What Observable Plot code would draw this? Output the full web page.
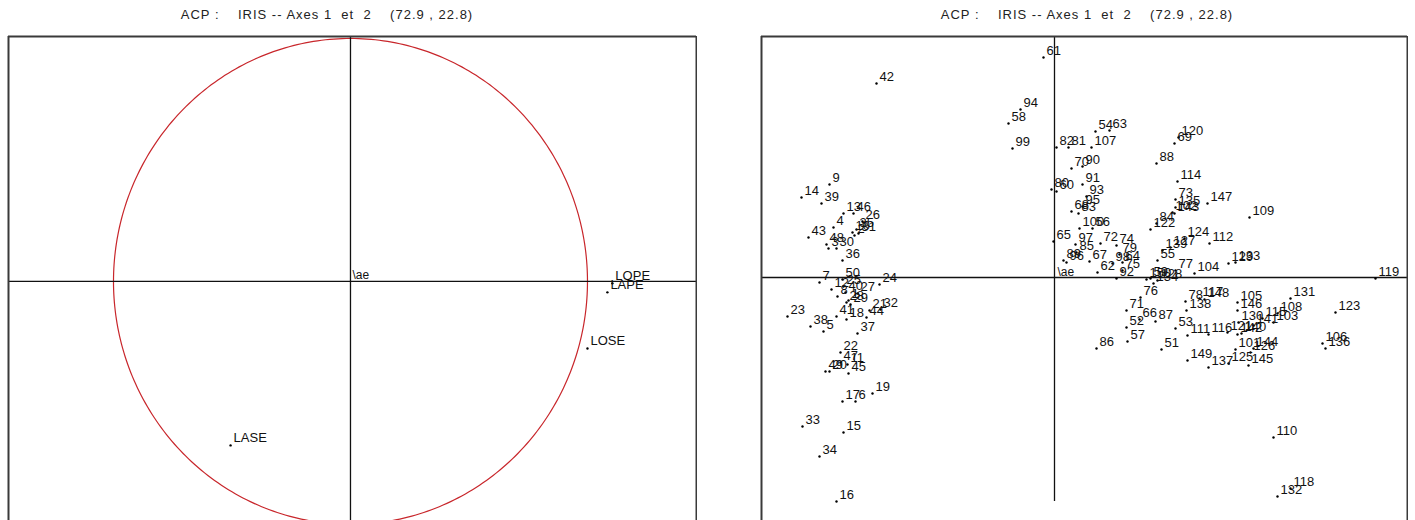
<!DOCTYPE html>
<html><head><meta charset="utf-8">
<script src="https://cdn.jsdelivr.net/npm/d3@7"></script>
<script src="https://cdn.jsdelivr.net/npm/@observablehq/plot@0.6"></script>
<style>
html,body{margin:0;padding:0;background:#fff;}
body{width:1415px;height:520px;overflow:hidden;position:relative;font-family:"Liberation Sans",Arial,sans-serif;}
.title{position:absolute;top:7px;width:400px;text-align:center;font-size:13px;letter-spacing:1px;white-space:pre;color:#222;}
.panel{position:absolute;top:35px;}
</style></head><body>
<div class="title" id="t1" style="left:127px"></div>
<div class="title" id="t2" style="left:887px"></div>
<div class="panel" id="p1" style="left:7px"></div>
<div class="panel" id="p2" style="left:760px"></div>
<script>
const titleText = "ACP :    IRIS -- Axes 1  et  2    (72.9 , 22.8)";
const originLabel = "\\ae";

// Correlation circle: variables
const varNames = ["LOPE", "LAPE", "LOSE", "LASE"];
const varX = [1.105, 1.084, 1.000, -0.506];
const varY = [-0.008, -0.045, -0.276, -0.675];

// Individuals: setosa group
const setLabels = ["42","9","14","39","13","46","26","4","10","35","2","31","43","48","3","30","36","50","7","25","12","8","40","27","28","29","1","24","41","18","44","21","32","23","38","5","37","22","47","11","49","20","45","17","6","19","33","15","34","16"];
const setX = [-1.78,-2.25,-2.53,-2.33,-2.11,-2.01,-1.92,-2.21,-2.02,-1.98,-2.00,-1.96,-2.46,-2.28,-2.26,-2.18,-2.12,-2.12,-2.35,-2.11,-2.23,-2.17,-2.09,-1.97,-2.08,-2.04,-2.06,-1.75,-2.18,-2.08,-1.88,-1.85,-1.74,-2.67,-2.44,-2.31,-1.97,-2.14,-2.14,-2.07,-2.29,-2.25,-2.06,-2.12,-1.99,-1.82,-2.52,-2.11,-2.35,-2.18];
const setY = [1.94,0.93,0.80,0.74,0.64,0.64,0.56,0.50,0.45,0.48,0.42,0.44,0.40,0.33,0.29,0.29,0.17,-0.02,-0.05,-0.09,-0.12,-0.19,-0.15,-0.16,-0.25,-0.27,-0.23,-0.07,-0.39,-0.42,-0.40,-0.33,-0.32,-0.39,-0.49,-0.54,-0.56,-0.75,-0.85,-0.87,-0.94,-0.94,-0.96,-1.24,-1.24,-1.16,-1.49,-1.55,-1.79,-2.24];

// Individuals: versicolor / virginica group
const othLabels = ["61","94","58","99","82","81","107","54","63","70","90","91","80","60","93","95","68","83","100","56","122","84","73","135","102","143","88","69","120","114","147","109","124","112","139","127","55","65","97","72","74","85","89","96","67","79","98","64","75","62","92","150","59","128","134","77","104","129","133","76","71","52","66","87","57","86","51","53","138","78","117","148","111","116","121","142","140","119","131","105","146","108","123","130","141","115","103","101","144","149","137","125","126","145","106","136","110","132","118"];
const othX = [-0.11,-0.34,-0.46,-0.42,0.02,0.14,0.37,0.41,0.55,0.17,0.28,0.28,-0.03,0.02,0.32,0.28,0.17,0.24,0.25,0.38,0.96,1.02,1.21,1.21,1.18,1.20,1.02,1.20,1.24,1.23,1.53,1.95,1.30,1.55,1.08,1.16,1.03,-0.01,0.21,0.46,0.62,0.22,0.09,0.12,0.35,0.65,0.58,0.68,0.68,0.43,0.62,0.92,0.96,1.03,0.99,1.21,1.40,1.74,1.81,0.86,0.72,0.72,0.85,1.01,0.73,0.42,1.07,1.21,1.32,1.31,1.45,1.50,1.33,1.54,1.73,1.83,1.87,3.21,2.36,1.83,1.83,2.23,2.81,1.84,1.99,2.08,2.19,1.81,1.99,1.33,1.54,1.74,1.96,1.94,2.68,2.71,2.19,2.23,2.36];
const othY = [2.20,1.68,1.54,1.29,1.30,1.30,1.30,1.46,1.47,1.09,1.11,0.93,0.88,0.86,0.81,0.71,0.66,0.64,0.49,0.49,0.48,0.54,0.78,0.70,0.65,0.64,1.14,1.34,1.40,0.96,0.74,0.60,0.39,0.34,0.27,0.30,0.17,0.36,0.33,0.34,0.32,0.25,0.17,0.15,0.16,0.23,0.14,0.15,0.07,0.05,-0.01,-0.02,-0.01,-0.03,-0.06,0.07,0.04,0.14,0.15,-0.20,-0.33,-0.50,-0.42,-0.44,-0.64,-0.71,-0.72,-0.51,-0.33,-0.24,-0.21,-0.22,-0.58,-0.57,-0.55,-0.57,-0.56,-0.01,-0.21,-0.25,-0.33,-0.36,-0.35,-0.45,-0.48,-0.41,-0.45,-0.72,-0.71,-0.83,-0.90,-0.86,-0.75,-0.88,-0.66,-0.71,-1.60,-2.19,-2.11];

const font = '"Liberation Sans", Arial, sans-serif';
const ink = "#111";
const frameColor = "#3a3a3a";

document.getElementById("t1").textContent = titleText;
document.getElementById("t2").textContent = titleText;

// ---------- left panel: correlation circle ----------
const vars = varNames.map((n, i) => ({name: n, x: varX[i], y: varY[i]}));
const angles = d3.range(0, 361).map(a => a * Math.PI / 180);
const lx = [-1.443, 1.460], ly = [-0.984, 1.008];
const left = Plot.plot({
  width: 690, height: 485,
  marginLeft: 1, marginRight: 1, marginTop: 1, marginBottom: 0,
  x: {domain: lx, axis: null},
  y: {domain: ly, axis: null},
  style: {fontFamily: font, fontSize: "13px", background: "transparent", overflow: "hidden"},
  marks: [
    Plot.line(angles, {x: a => Math.cos(a), y: a => Math.sin(a), stroke: "#c8262b", strokeWidth: 1.2, clip: true}),
    Plot.ruleY([0], {stroke: ink, strokeWidth: 1.3}),
    Plot.ruleX([0], {stroke: ink, strokeWidth: 1.3}),
    Plot.ruleX([lx[0], lx[1]], {stroke: frameColor, strokeWidth: 2}),
    Plot.ruleY([ly[1]], {stroke: frameColor, strokeWidth: 2}),
    Plot.dot(vars, {x: "x", y: "y", r: 1.2, fill: "#000", stroke: null}),
    Plot.text(vars, {x: "x", y: "y", text: "name", dx: 3, dy: -3, textAnchor: "start", lineAnchor: "bottom", fill: ink}),
    Plot.text([{x: 0, y: 0, t: originLabel}], {x: "x", y: "y", text: "t", dx: 2, dy: -2, textAnchor: "start", lineAnchor: "bottom", fill: ink, fontSize: 12})
  ]
});
document.getElementById("p1").appendChild(left);

// ---------- right panel: individuals ----------
const inds = setLabels.map((l, i) => ({label: l, x: setX[i], y: setY[i]}))
  .concat(othLabels.map((l, i) => ({label: l, x: othX[i], y: othY[i]})));
const rx = [-2.93, 3.53], ry = [-2.43, 2.41];
const right = Plot.plot({
  width: 648, height: 485,
  marginLeft: 1, marginRight: 1, marginTop: 1, marginBottom: 0,
  x: {domain: rx, axis: null},
  y: {domain: ry, axis: null},
  style: {fontFamily: font, fontSize: "13px", background: "transparent", overflow: "hidden"},
  marks: [
    Plot.ruleY([0], {stroke: ink, strokeWidth: 1.3}),
    Plot.ruleX([0], {y1: -2.24, y2: ry[1], stroke: ink, strokeWidth: 1.3}),
    Plot.ruleX([rx[0], rx[1]], {stroke: frameColor, strokeWidth: 2}),
    Plot.ruleY([ry[1]], {stroke: frameColor, strokeWidth: 2}),
    Plot.dot(inds, {x: "x", y: "y", r: 1.2, fill: "#000", stroke: null}),
    Plot.text(inds, {x: "x", y: "y", text: "label", dx: 3, dy: -3, textAnchor: "start", lineAnchor: "bottom", fill: ink}),
    Plot.text([{x: 0, y: 0, t: originLabel}], {x: "x", y: "y", text: "t", dx: 3, dy: -2, textAnchor: "start", lineAnchor: "bottom", fill: ink, fontSize: 12})
  ]
});
document.getElementById("p2").appendChild(right);
</script>
</body></html>
